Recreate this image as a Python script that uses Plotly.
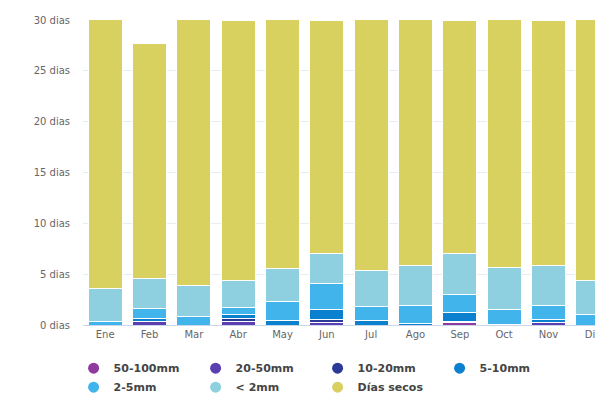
import plotly.graph_objects as go

months = ["Ene", "Feb", "Mar", "Abr", "May", "Jun", "Jul", "Ago", "Sep", "Oct", "Nov", "Dic"]
y_ticks = [0, 5, 10, 15, 20, 25, 30]
y_tick_labels = ["0 dias", "5 dias", "10 dias", "15 dias", "20 dias", "25 dias", "30 dias"]

r50_100 = [0, 0, 0, 0, 0, 0, 0, 0, 0.2, 0, 0, 0]
r20_50 = [0, 0.33, 0, 0.33, 0, 0.26, 0, 0, 0.13, 0, 0.26, 0]
r10_20 = [0, 0, 0, 0.34, 0, 0.3, 0, 0, 0, 0, 0, 0]
r5_10 = [0, 0.33, 0, 0.33, 0.42, 0.92, 0.4, 0.17, 0.89, 0.02, 0.3, 0]
r2_5 = [0.35, 1.0, 0.82, 0.69, 1.88, 2.56, 1.4, 1.73, 1.8, 1.48, 1.38, 1.08]
r_lt2 = [3.25, 2.94, 3.03, 2.71, 3.25, 2.96, 3.52, 3.91, 4.04, 4.18, 3.9, 3.28]
dry = [27.4, 23.1, 27.15, 25.57, 25.45, 23.0, 25.71, 25.19, 22.94, 25.32, 24.16, 26.64]

series = [
    ("50-100mm", r50_100, "#8e3a9e"),
    ("20-50mm", r20_50, "#5a3fb0"),
    ("10-20mm", r10_20, "#2b3a98"),
    ("5-10mm", r5_10, "#0b80cf"),
    ("2-5mm", r2_5, "#41b4ec"),
    ("< 2mm", r_lt2, "#8ed0e0"),
    ("Días secos", dry, "#d8d160"),
]

fig = go.Figure()
for name, vals, color in series:
    fig.add_trace(go.Bar(
        x=months, y=vals, name=name, marker_color=color,
        marker_line_color="white", marker_line_width=1,
        showlegend=False, hoverinfo="skip",
    ))
for name, vals, color in series:
    fig.add_trace(go.Scatter(
        x=[None], y=[None], mode="markers", name=name,
        marker=dict(symbol="circle", size=11, color=color),
    ))

fig.update_layout(
    width=595, height=396,
    margin=dict(l=83, r=0, t=20, b=71, autoexpand=False),
    barmode="stack", bargap=0.23,
    plot_bgcolor="white", paper_bgcolor="white",
    font=dict(family="DejaVu Sans", color="#666666", size=10),
    legend=dict(
        orientation="h", xref="container", x=0.1237, xanchor="left",
        yref="container", y=0.107, yanchor="top",
        entrywidth=77, entrywidthmode="pixels",
        font=dict(size=11, color="#444444", weight="bold"),
        itemsizing="trace", traceorder="normal", tracegroupgap=0,
    ),
    xaxis=dict(
        range=[-0.5, 11.05], showline=True, linecolor="#ccd6eb", linewidth=1,
        tickfont=dict(size=10, color="#666666"), ticks="", automargin=False,
    ),
    yaxis=dict(
        range=[0, 30], tickmode="array", tickvals=y_ticks, ticktext=y_tick_labels,
        showgrid=True, gridcolor="#e6eef4", zeroline=False, automargin=False,
        tickfont=dict(size=10, color="#666666"), ticklabelstandoff=12,
    ),
)

fig.write_html("out.html")
